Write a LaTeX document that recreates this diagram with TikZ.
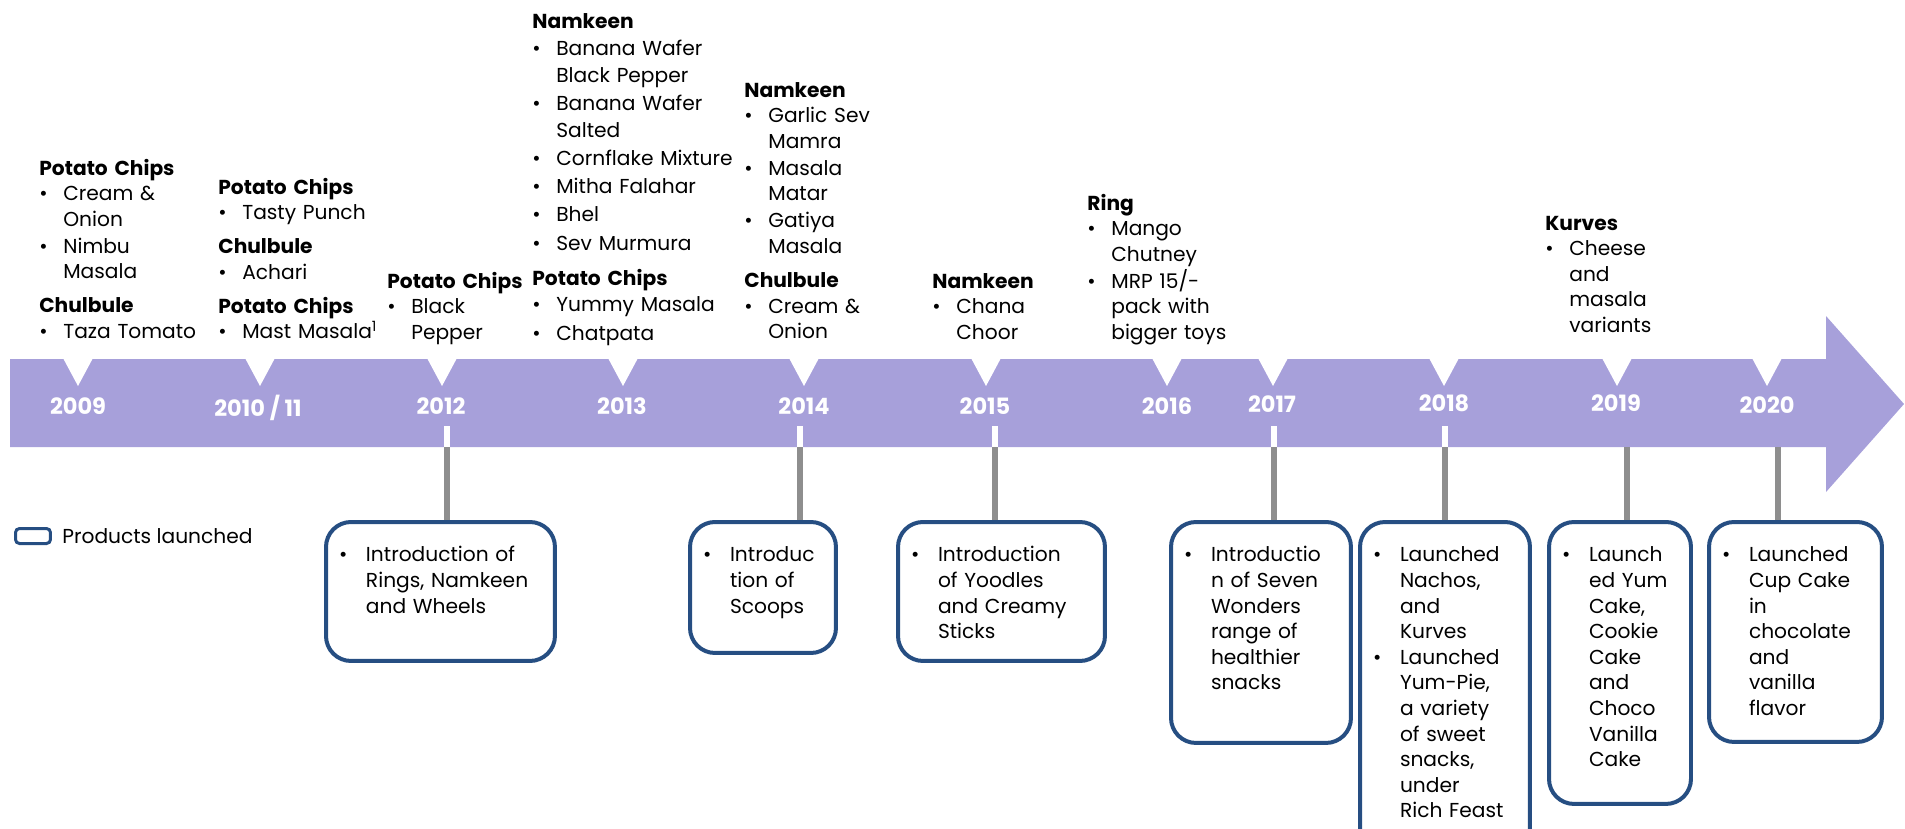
\documentclass[tikz,border=0pt]{standalone}
\usepackage{fontspec}
\setmainfont{Poppins}
\usetikzlibrary{positioning}
\definecolor{bandpurple}{RGB}{167,160,218}
\definecolor{boxblue}{RGB}{38,78,130}
\definecolor{stemgrey}{RGB}{142,142,142}
\newcommand\listfont[1][5.12mm]{\fontsize{11.5}{#1}\selectfont}
\newcommand\hd[1]{\textbf{#1}}
\newcommand\pitem[1]{\makebox[4.8mm][l]{\textbullet}\mbox{#1}}
\newcommand\pcont[1]{\hspace*{4.8mm}\mbox{#1}}
\newcommand\bitem[1]{\makebox[5.4mm][l]{\textbullet}\mbox{#1}}
\newcommand\bcont[1]{\hspace*{5.4mm}\mbox{#1}}

\begin{document}
\begin{tikzpicture}[x=0.02cm,y=-0.02cm,
    year/.style={font=\fontsize{12.8}{14}\selectfont\bfseries,text=white,inner sep=0},
    product list/.style={anchor=base west,text width=55mm,align=left,inner sep=0,font=\listfont},
    event box/.style={draw=boxblue,line width=0.8mm,rounded corners=5mm,anchor=north west,
      align=left,font=\listfont,inner xsep=2.6mm,inner ysep=2mm,text height=6mm},
    stem/.style={stemgrey,line width=1.1mm},
    tick/.style={white,line width=1.1mm}]
  \useasboundingbox (0,0) rectangle (1905,828);

  \fill[bandpurple] (10,359) -- (1826,359) -- (1826,316) -- (1904,404)
    -- (1826,492) -- (1826,447) -- (10,447) -- cycle;
  \foreach \x in {78,260,442,623,804,986,1167,1273,1444,1617,1767}
    \fill[white] (\x-15,358) -- (\x+15,358) -- (\x,386) -- cycle;

  \node[year] (y2009) at (78,406) {2009};
  \node[year] (y2010) at (258,408) {2010 / 11};
  \node[year] (y2012) at (441,406) {2012};
  \node[year] (y2013) at (622,406) {2013};
  \node[year] (y2014) at (804,406) {2014};
  \node[year] (y2015) at (985,406) {2015};
  \node[year] (y2016) at (1167,406) {2016};
  \node[year] (y2017) at (1272,404) {2017};
  \node[year] (y2018) at (1444,403) {2018};
  \node[year] (y2019) at (1616,403) {2019};
  \node[year] (y2020) at (1767,405) {2020};

  \node[product list] (p2009) at (39,175) {\hd{Potato Chips}\\ \pitem{Cream \&}\\ \pcont{Onion}\\[0.3mm]
    \pitem{Nimbu}\\ \pcont{Masala}\\[1.7mm] \hd{Chulbule}\\ \pitem{Taza Tomato}};
  \node[product list] (p2010) at (218,194) {\hd{Potato Chips}\\ \pitem{Tasty Punch}\\[1.7mm]
    \hd{Chulbule}\\ \pitem{Achari}\\[1.7mm] \hd{Potato Chips}\\ \pitem{Mast Masala\textsuperscript{1}}};
  \node[product list] (p2012) at (387,288) {\hd{Potato Chips}\\ \pitem{Black}\\ \pcont{Pepper}};
  \node[product list,font={\listfont[5.34mm]}] (p2013) at (532,29) {\hd{Namkeen}\\
    \pitem{Banana Wafer}\\ \pcont{Black Pepper}\\[0.3mm] \pitem{Banana Wafer}\\ \pcont{Salted}\\[0.3mm]
    \pitem{Cornflake Mixture}\\[0.3mm] \pitem{Mitha Falahar}\\[0.3mm] \pitem{Bhel}\\[0.3mm]
    \pitem{Sev Murmura}\\[1.7mm] \hd{Potato Chips}\\ \pitem{Yummy Masala}\\[0.3mm] \pitem{Chatpata}};
  \node[product list] (p2014) at (744,97) {\hd{Namkeen}\\ \pitem{Garlic Sev}\\ \pcont{Mamra}\\[0.3mm]
    \pitem{Masala}\\ \pcont{Matar}\\[0.3mm] \pitem{Gatiya}\\ \pcont{Masala}\\[1.7mm]
    \hd{Chulbule}\\ \pitem{Cream \&}\\ \pcont{Onion}};
  \node[product list] (p2015) at (932,288) {\hd{Namkeen}\\ \pitem{Chana}\\ \pcont{Choor}};
  \node[product list] (p2016) at (1087,210) {\hd{Ring}\\ \pitem{Mango}\\ \pcont{Chutney}\\[0.3mm]
    \pitem{MRP 15/-}\\ \pcont{pack with}\\ \pcont{bigger toys}};
  \node[product list] (p2019) at (1545,230) {\hd{Kurves}\\ \pitem{Cheese}\\ \pcont{and}\\
    \pcont{masala}\\ \pcont{variants}};

  \node[event box,text width=40.6mm,text depth=17.8mm] (b2012) at (324,520)
    {\bitem{Introduction of}\\ \bcont{Rings, Namkeen}\\ \bcont{and Wheels}};
  \node[event box,text width=24mm,text depth=16.2mm] (b2014) at (688,520)
    {\bitem{Introduc}\\ \bcont{tion of}\\ \bcont{Scoops}};
  \node[event box,text width=36.2mm,text depth=17.8mm] (b2015) at (896,520)
    {\bitem{Introduction}\\ \bcont{of Yoodles}\\ \bcont{and Creamy}\\ \bcont{Sticks}};
  \node[event box,text width=30.8mm,text depth=34.2mm] (b2017) at (1169,520)
    {\bitem{Introductio}\\ \bcont{n of Seven}\\ \bcont{Wonders}\\ \bcont{range of}\\
     \bcont{healthier}\\ \bcont{snacks}};
  \node[event box,text width=28.8mm,text depth=56mm] (b2018) at (1358,520)
    {\bitem{Launched}\\ \bcont{Nachos,}\\ \bcont{and}\\ \bcont{Kurves}\\ \bitem{Launched}\\
     \bcont{Yum-Pie,}\\ \bcont{a variety}\\ \bcont{of sweet}\\ \bcont{snacks,}\\ \bcont{under}\\
     \bcont{Rich Feast}};
  \node[event box,text width=23.2mm,text depth=46.4mm] (b2019) at (1547,520)
    {\bitem{Launch}\\ \bcont{ed Yum}\\ \bcont{Cake,}\\ \bcont{Cookie}\\ \bcont{Cake}\\
     \bcont{and}\\ \bcont{Choco}\\ \bcont{Vanilla}\\ \bcont{Cake}};
  \node[event box,text width=29.4mm,text depth=34mm] (b2020) at (1707,520)
    {\bitem{Launched}\\ \bcont{Cup Cake}\\ \bcont{in}\\ \bcont{chocolate}\\ \bcont{and}\\
     \bcont{vanilla}\\ \bcont{flavor}};

  \coordinate (s2012) at (447,447);
  \coordinate (s2014) at (800,447);
  \coordinate (s2015) at (995,447);
  \coordinate (s2017) at (1274,447);
  \coordinate (s2018) at (1445,447);
  \coordinate (s2019) at (1627,447);
  \coordinate (s2020) at (1778,447);
  \foreach \s in {s2012,s2014,s2015,s2017,s2018}
    \draw[tick] (\s) -- ++(0,-21);
  \draw[stem] (s2012) -- (s2012 |- b2012.north);
  \draw[stem] (s2014) -- (s2014 |- b2014.north);
  \draw[stem] (s2015) -- (s2015 |- b2015.north);
  \draw[stem] (s2017) -- (s2017 |- b2017.north);
  \draw[stem] (s2018) -- (s2018 |- b2018.north);
  \draw[stem] (s2019) -- (s2019 |- b2019.north);
  \draw[stem] (s2020) -- (s2020 |- b2020.north);

  \node[draw=boxblue,line width=0.6mm,rounded corners=0.8mm,minimum width=7mm,
    minimum height=3mm,inner sep=0] (key) at (33,536) {};
  \node[right=2mm of key,inner sep=0,font=\listfont] (keytext) {Products launched};
\end{tikzpicture}
\end{document}
